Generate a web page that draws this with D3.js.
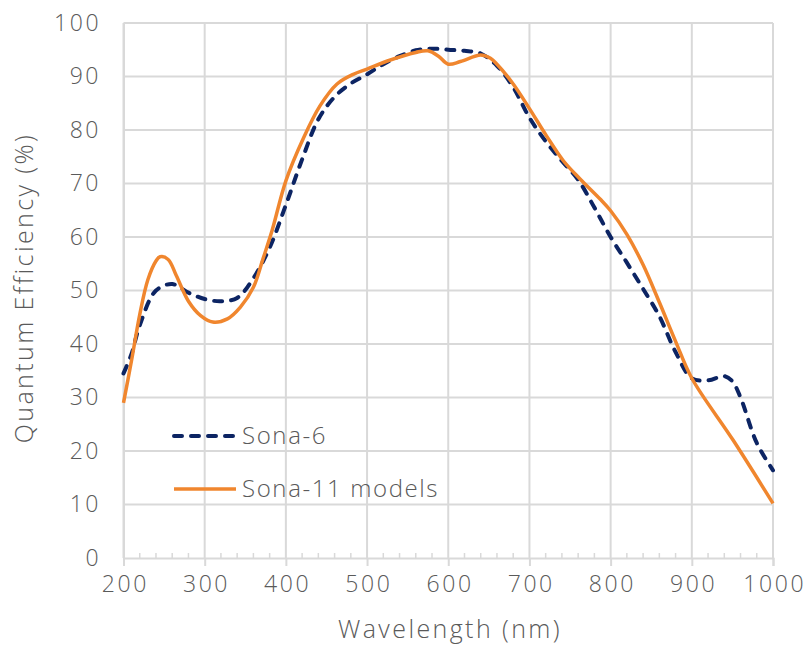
<!DOCTYPE html>
<html>
<head>
<meta charset="utf-8">
<script src="https://cdn.jsdelivr.net/npm/d3@7"></script>
<style>
  html, body { margin: 0; padding: 0; background: #fff; }
  svg { display: block; }
  text { font-family: "Open Sans", "Noto Sans", sans-serif; fill: #5a5a5a; font-weight: 300; }
</style>
</head>
<body>
<svg id="chart" width="811" height="646"></svg>
<script>
// ---- Data ----
const seriesNames = ["Sona-6", "Sona-11 models"];
const xTicks = [200, 300, 400, 500, 600, 700, 800, 900, 1000];
const yTicks = [0, 10, 20, 30, 40, 50, 60, 70, 80, 90, 100];

const sona6Wavelength = [200, 210, 220, 240, 260, 280, 300, 320, 340, 360, 380, 400, 420, 440, 460, 480, 500, 520, 540, 560, 580, 600, 620, 640, 660, 680, 700, 720, 740, 760, 780, 800, 820, 840, 860, 880, 900, 920, 940, 950, 960, 980, 1000];
const sona6QE = [34.5, 38.2, 43.5, 50, 51.2, 49.6, 48.4, 48, 48.6, 52.3, 58, 66, 74.5, 82, 86.2, 88.7, 90.4, 92.3, 93.8, 94.9, 95.2, 95, 94.8, 94.3, 92, 88, 82.3, 77.9, 74.2, 70.7, 65.5, 60, 55.2, 50.3, 45.2, 38.5, 33.6, 33.2, 34, 33, 30, 21.5, 16.4];

const sona11Wavelength = [200, 210, 220, 230, 240, 245, 255, 265, 280, 295, 310, 328, 344, 360, 372, 383, 400, 422, 442, 463, 483, 500, 525, 560, 575, 588, 600, 615, 640, 652, 660, 680, 700, 721, 742, 762, 787, 800, 820, 840, 860, 880, 900, 951, 1000];
const sona11QE = [29, 37, 45.5, 52, 55.5, 56.3, 55.8, 52.8, 48, 45.3, 44.1, 44.7, 46.9, 50.6, 56, 61.2, 70.5, 78.6, 84.5, 88.6, 90.4, 91.4, 92.9, 94.5, 94.8, 93.8, 92.3, 92.8, 94, 93.4, 92.3, 88.6, 84, 78.9, 74.2, 70.9, 67.1, 64.9, 60.5, 54.8, 47.8, 40.5, 33.6, 22, 10.2];

// ---- Drawing ----
const svg = d3.select("#chart");
const W = 811, H = 646;
const mLeft = 123.5, mRight = 773, mTop = 23, mBottom = 558;
const gridColor = "#d9d9d9";
const navy = "#0c2463";
const orange = "#f0862e";
const textColor = "#5a5a5a";

const x = d3.scaleLinear().domain([200, 1000]).range([mLeft, mRight]);
const y = d3.scaleLinear().domain([0, 100]).range([mBottom, mTop]);

svg.append("rect").attr("width", W).attr("height", H).attr("fill", "#fff");

// gridlines
const g = svg.append("g");
g.selectAll("line.h").data(yTicks.filter(d => d > 0)).enter().append("line")
  .attr("x1", mLeft).attr("x2", mRight)
  .attr("y1", d => y(d)).attr("y2", d => y(d))
  .attr("stroke", gridColor).attr("stroke-width", 2);
g.selectAll("line.v").data(xTicks).enter().append("line")
  .attr("y1", mTop).attr("y2", mBottom)
  .attr("x1", d => x(d)).attr("x2", d => x(d))
  .attr("stroke", gridColor).attr("stroke-width", 2);

// x axis
const xAxis = d3.axisBottom(x).tickValues(xTicks).tickSize(8).tickPadding(10).tickFormat(d3.format("d"));
const xg = svg.append("g").attr("transform", `translate(0,${mBottom})`).call(xAxis);
xg.select(".domain").attr("stroke", gridColor).attr("stroke-width", 2);
xg.selectAll(".tick line").attr("stroke", gridColor).attr("stroke-width", 2);
xg.selectAll(".tick text").attr("font-size", 23).attr("letter-spacing", 2.6)
  .attr("font-family", "'Open Sans', sans-serif").attr("font-weight", 300).attr("fill", textColor)
  .attr("dx", 1.3);

// minor ticks (inside)
const minor = d3.range(220, 1000, 20).filter(v => v % 100 !== 0);
svg.append("g").selectAll("line").data(minor).enter().append("line")
  .attr("x1", d => x(d)).attr("x2", d => x(d))
  .attr("y1", mBottom - 5).attr("y2", mBottom)
  .attr("stroke", gridColor).attr("stroke-width", 1.5);

// y axis
const yAxis = d3.axisLeft(y).tickValues(yTicks).tickSize(0).tickPadding(25).tickFormat(d3.format("d"));
const yg = svg.append("g").attr("transform", `translate(${mLeft},0)`).call(yAxis);
yg.select(".domain").attr("stroke", gridColor).attr("stroke-width", 2);
yg.selectAll(".tick text").attr("font-size", 23).attr("letter-spacing", 2.6)
  .attr("font-family", "'Open Sans', sans-serif").attr("font-weight", 300).attr("fill", textColor)
  .attr("dx", 2.6);

// axis titles
svg.append("text").attr("x", 450).attr("y", 638).attr("text-anchor", "middle")
  .attr("font-size", 25).attr("letter-spacing", 2.4).text("Wavelength (nm)");
svg.append("text").attr("transform", "translate(33,288) rotate(-90)").attr("text-anchor", "middle")
  .attr("font-size", 25).attr("letter-spacing", 2.4).text("Quantum Efficiency (%)");

// lines
const line = d3.line().x(d => x(d[0])).y(d => y(d[1])).curve(d3.curveCatmullRom.alpha(0.5));
const sona6 = sona6Wavelength.map((w, i) => [w, sona6QE[i]]);
const sona11 = sona11Wavelength.map((w, i) => [w, sona11QE[i]]);

svg.append("path").datum(sona6).attr("d", line)
  .attr("fill", "none").attr("stroke", navy).attr("stroke-width", 4)
  .attr("stroke-dasharray", "8,9").attr("stroke-linecap", "round");
svg.append("path").datum(sona11).attr("d", line)
  .attr("fill", "none").attr("stroke", orange).attr("stroke-width", 3.5);

// legend
const legend = [
  { name: seriesNames[0], color: navy, dash: "8,9", cap: "round", w: 4, yv: 436 },
  { name: seriesNames[1], color: orange, dash: null, cap: "butt", w: 3.5, yv: 489 }
];
const lg = svg.append("g");
legend.forEach(l => {
  lg.append("line").attr("x1", 174).attr("x2", 236).attr("y1", l.yv).attr("y2", l.yv)
    .attr("stroke", l.color).attr("stroke-width", l.w)
    .attr("stroke-dasharray", l.dash).attr("stroke-linecap", l.cap);
  lg.append("text").attr("x", 242).attr("y", l.yv + 8).attr("font-size", 24)
    .attr("letter-spacing", 1.6).text(l.name);
});
</script>
</body>
</html>
